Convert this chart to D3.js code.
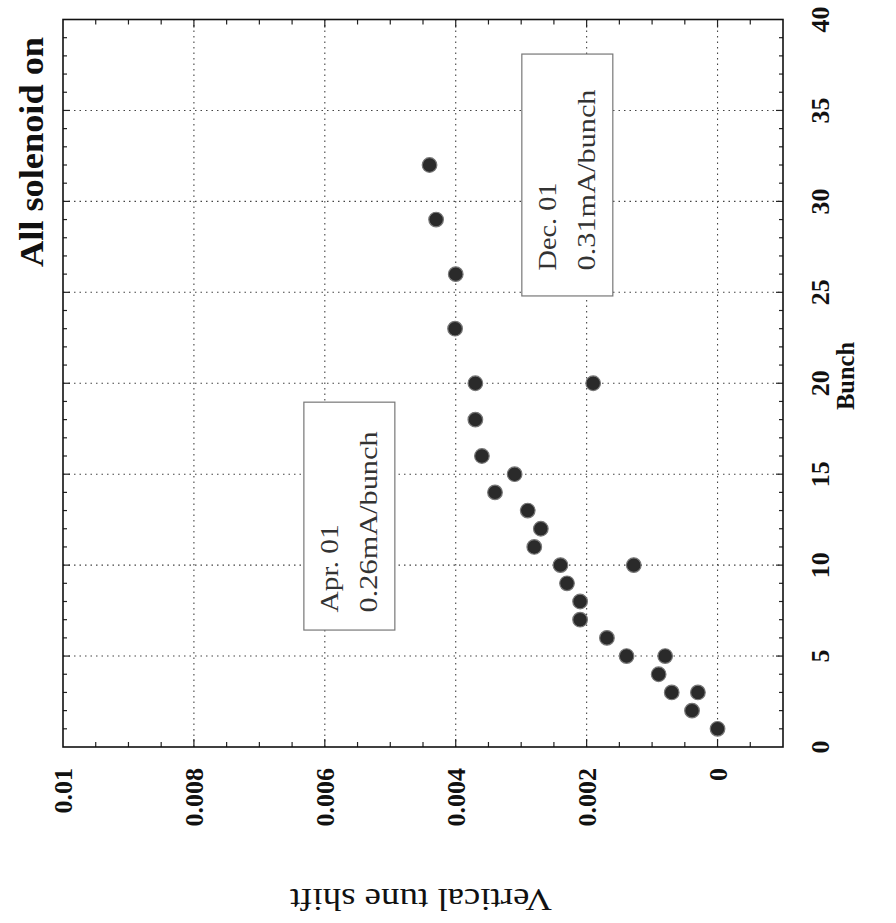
<!DOCTYPE html>
<html><head><meta charset="utf-8">
<script src="https://cdn.jsdelivr.net/npm/d3@7"></script>
<style>html,body{margin:0;padding:0;background:#fff;}svg{display:block;}</style>
</head><body>
<svg id="c" width="896" height="923"></svg>
<script>
// ---- data ----
const bunchMain = [1,2,3,4,5,6,7,8,9,10,11,12,13,14,15,16,18,20,23,26,29,32];
const shiftMain = [0,0.00039,0.0007,0.0009,0.00139,0.00169,0.0021,0.0021,0.0023,0.0024,0.0028,0.0027,0.0029,0.0034,0.0031,0.0036,0.0037,0.0037,0.00401,0.0040,0.0043,0.0044];
const bunchLow = [3,5,10,20];
const shiftLow = [0.0003,0.0008,0.00128,0.0019];
const shiftTicks = [0.01,0.008,0.006,0.004,0.002,0];
const shiftTickLabels = ["0.01","0.008","0.006","0.004","0.002","0"];
const bunchTicks = [0,5,10,15,20,25,30,35,40];
const boxApr = ["Apr. 01","0.26mA/bunch"];
const boxDec = ["Dec. 01","0.31mA/bunch"];
const titleText = "All solenoid on";
const xTitle = "Bunch";
const yTitle = "Vertical tune shift";

// ---- scales (chart is drawn rotated: tune shift horizontal, bunch vertical) ----
const svg = d3.select("#c");
const sx = d3.scaleLinear().domain([0.01,-0.001]).range([63,783]);
const sy = d3.scaleLinear().domain([0,40]).range([747,19.5]);
const serif = "'Liberation Serif','Times New Roman',serif";

// grid
const g = svg.append("g");
g.selectAll(".gv").data(shiftTicks.filter(d=>d<0.01)).enter().append("line")
  .attr("x1",d=>sx(d)).attr("x2",d=>sx(d)).attr("y1",sy(40)).attr("y2",sy(0))
  .attr("stroke","#444").attr("stroke-width",1.1).attr("stroke-dasharray","1.5,4");
g.selectAll(".gh").data(bunchTicks.filter(d=>d>0&&d<40)).enter().append("line")
  .attr("y1",d=>sy(d)).attr("y2",d=>sy(d)).attr("x1",sx(0.01)).attr("x2",sx(-0.001))
  .attr("stroke","#444").attr("stroke-width",1.1).attr("stroke-dasharray","1.5,4");

// minor ticks on top and bottom edges
const minorShift = d3.range(0,23).map(i=>0.01-i*0.0005).filter(d=>d>-0.001+1e-9 && d<0.01-1e-9);
g.selectAll(".tb").data(minorShift).enter().append("line")
  .attr("x1",d=>sx(d)).attr("x2",d=>sx(d)).attr("y1",sy(0)).attr("y2",d=>sy(0)-(Math.abs(d*1000/2-Math.round(d*1000/2))<1e-6?8:5))
  .attr("stroke","#222").attr("stroke-width",1.2);
g.selectAll(".tt").data(minorShift).enter().append("line")
  .attr("x1",d=>sx(d)).attr("x2",d=>sx(d)).attr("y1",sy(40)).attr("y2",d=>sy(40)+(Math.abs(d*1000/2-Math.round(d*1000/2))<1e-6?8:5))
  .attr("stroke","#222").attr("stroke-width",1.2);
// ticks on left and right edges
const minorBunch = d3.range(1,40);
g.selectAll(".tr").data(minorBunch).enter().append("line")
  .attr("y1",d=>sy(d)).attr("y2",d=>sy(d)).attr("x1",sx(-0.001)).attr("x2",d=>sx(-0.001)-(d%5===0?7:4))
  .attr("stroke","#222").attr("stroke-width",1.2);
g.selectAll(".tl").data(minorBunch).enter().append("line")
  .attr("y1",d=>sy(d)).attr("y2",d=>sy(d)).attr("x1",sx(0.01)).attr("x2",d=>sx(0.01)+(d%5===0?7:4))
  .attr("stroke","#222").attr("stroke-width",1.2);

// frame
g.append("rect").attr("x",sx(0.01)).attr("y",sy(40)).attr("width",sx(-0.001)-sx(0.01)).attr("height",sy(0)-sy(40))
  .attr("fill","none").attr("stroke","#111").attr("stroke-width",1.6);

// annotation boxes
function box(lines, s0, s1, b0, b1, textStartB){
  const x0 = sx(s0), x1 = sx(s1), y0 = sy(b1), y1 = sy(b0);
  g.append("rect").attr("x",x0).attr("y",y0).attr("width",x1-x0).attr("height",y1-y0)
    .attr("fill","#fff").attr("stroke","#777").attr("stroke-width",1.2);
  const cx = [x0+(x1-x0)*0.27, x0+(x1-x0)*0.70];
  const lens = [88,181];
  lines.forEach((t,i)=>{
    g.append("text").attr("transform",`translate(${cx[i]},${sy(textStartB)}) rotate(-90)`)
      .attr("dy","0.35em").attr("text-anchor","start")
      .attr("font-family",serif).attr("font-size",26).attr("fill","#333")
      .attr("textLength",lens[i]).attr("lengthAdjust","spacingAndGlyphs").text(t);
  });
}
box(boxApr, 0.00632, 0.00493, 6.43, 18.96, 7.4);
box(boxDec, 0.00299, 0.0016, 24.8, 38.1, 26.2);

// points
const pts = bunchMain.map((b,i)=>({b, s:shiftMain[i]})).concat(bunchLow.map((b,i)=>({b, s:shiftLow[i]})));
g.selectAll(".pt").data(pts).enter().append("circle")
  .attr("cx",d=>sx(d.s)).attr("cy",d=>sy(d.b)).attr("r",7.3)
  .attr("fill","#2a2a2a").attr("stroke","#777").attr("stroke-width",1.2);

// bottom tick labels (tune shift)
svg.selectAll(".bl").data(shiftTicks).enter().append("text")
  .attr("transform",d=>`translate(${sx(d)},768) rotate(-90)`)
  .attr("dy","0.35em").attr("text-anchor","end")
  .attr("font-family",serif).attr("font-weight","bold").attr("font-size",26).attr("fill","#111")
  .text((d,i)=>shiftTickLabels[i]);
// right tick labels (bunch)
svg.selectAll(".rl").data(bunchTicks).enter().append("text")
  .attr("transform",d=>`translate(820,${sy(d)}) rotate(-90)`)
  .attr("dy","0.35em").attr("text-anchor","middle")
  .attr("font-family",serif).attr("font-weight","bold").attr("font-size",26).attr("fill","#111")
  .text(d=>d);

// axis titles
svg.append("text").attr("transform",`translate(845,376) rotate(-90)`)
  .attr("dy","0.35em").attr("text-anchor","middle")
  .attr("font-family",serif).attr("font-weight","bold").attr("font-size",26).attr("fill","#111")
  .attr("textLength",68).attr("lengthAdjust","spacingAndGlyphs").text(xTitle);
svg.append("text").attr("transform",`translate(421,889) rotate(180)`)
  .attr("text-anchor","middle")
  .attr("font-family",serif).attr("font-size",31).attr("fill","#111")
  .attr("textLength",262).attr("lengthAdjust","spacingAndGlyphs").text(yTitle);
// title
svg.append("text").attr("transform",`translate(43,152) rotate(-90)`)
  .attr("text-anchor","middle")
  .attr("font-family",serif).attr("font-weight","bold").attr("font-size",34).attr("fill","#111")
  .attr("textLength",230).attr("lengthAdjust","spacingAndGlyphs").text(titleText);
</script>
</body></html>
